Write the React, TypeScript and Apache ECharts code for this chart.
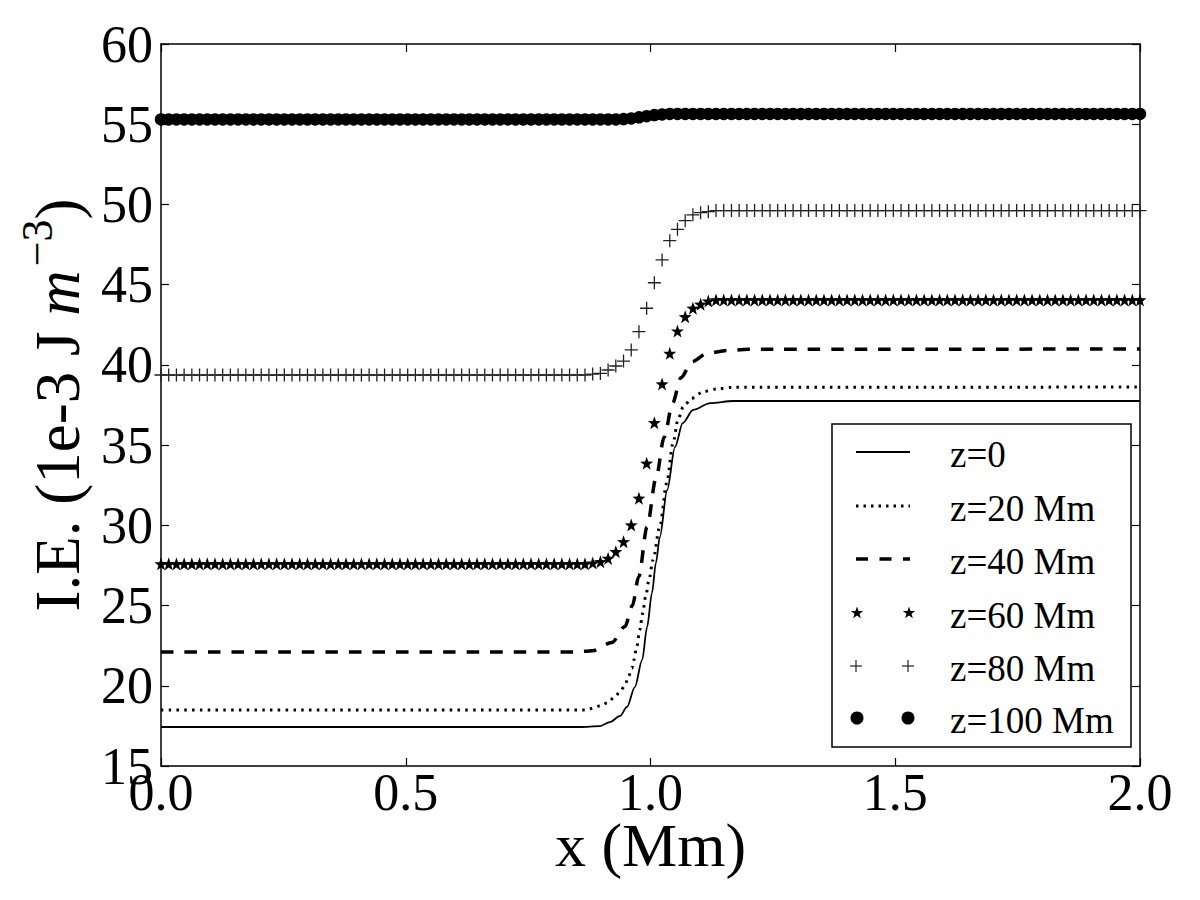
import React, { useEffect, useRef } from "react";
import * as echarts from "echarts";

const FONT = "'Liberation Serif', 'Times New Roman', serif";

// x range and tick labels
const X_MIN = 0;
const X_MAX = 2;
const X_INTERVAL = 0.5;
const Y_MIN = 15;
const Y_MAX = 60;
const Y_INTERVAL = 5;

const SERIES_NAMES = ["z=0", "z=20 Mm", "z=40 Mm", "z=60 Mm", "z=80 Mm", "z=100 Mm"];

// number of samples of the marker curves (uniform grid over 0..2 Mm)
const SAMPLE_COUNT = 128;

// z=0 (solid line)
const z0X = [0, 0.856, 0.897, 0.917, 0.938, 0.952, 0.968, 0.983, 0.993, 1.003, 1.011, 1.019, 1.034, 1.05, 1.066, 1.087, 1.122, 1.169, 2.0];
const z0Y = [17.43, 17.43, 17.49, 17.74, 18.12, 18.68, 19.92, 21.61, 23.66, 25.78, 27.65, 29.27, 32.2, 34.88, 36.38, 37.19, 37.62, 37.75, 37.75];

// z=20 Mm (dotted line)
const z20X = [0, 0.866, 0.897, 0.913, 0.927, 0.938, 0.948, 0.955, 0.962, 0.966, 0.972, 0.978, 0.984, 0.99, 0.997, 1.005, 1.019, 1.033, 1.046, 1.056, 1.067, 1.084, 1.108, 1.135, 1.168, 2.0];
const z20Y = [18.49, 18.49, 18.74, 18.95, 19.32, 19.63, 20.05, 20.57, 21.09, 21.61, 22.44, 23.48, 24.52, 25.55, 26.59, 27.84, 29.92, 32.62, 35.11, 36.57, 37.39, 37.92, 38.33, 38.5, 38.6, 38.62];

// z=40 Mm (dashed line)
const z40X = [0, 0.846, 0.882, 0.921, 0.948, 0.963, 0.976, 0.993, 1.011, 1.028, 1.045, 1.062, 1.085, 1.115, 1.155, 1.2, 2.0];
const z40Y = [22.1, 22.1, 22.19, 22.7, 23.7, 25.0, 26.8, 29.9, 32.9, 35.5, 37.6, 39.2, 40.2, 40.7, 40.9, 40.97, 40.99];

// z=60 Mm (stars), one value per grid sample
const z60Y = [
  27.6, 27.6, 27.6, 27.6, 27.6, 27.6, 27.6, 27.6, 27.6, 27.6, 27.6, 27.6, 27.6, 27.6,
  27.6, 27.6, 27.6, 27.6, 27.6, 27.6, 27.6, 27.6, 27.6, 27.6, 27.6, 27.6, 27.6, 27.6,
  27.6, 27.6, 27.6, 27.6, 27.6, 27.6, 27.6, 27.6, 27.6, 27.6, 27.6, 27.6, 27.6, 27.6,
  27.6, 27.6, 27.6, 27.6, 27.6, 27.6, 27.6, 27.6, 27.6, 27.6, 27.6, 27.6, 27.6, 27.6,
  27.65, 27.73, 27.94, 28.36, 28.98, 30.02, 31.69, 33.87, 36.4, 38.81, 40.72, 42.11, 43.0, 43.53, 43.78, 43.98,
  44.05, 44.05, 44.05, 44.05, 44.05, 44.05, 44.05, 44.05, 44.05, 44.05, 44.05, 44.05, 44.05, 44.05,
  44.05, 44.05, 44.05, 44.05, 44.05, 44.05, 44.05, 44.05, 44.05, 44.05, 44.05, 44.05, 44.05, 44.05,
  44.05, 44.05, 44.05, 44.05, 44.05, 44.05, 44.05, 44.05, 44.05, 44.05, 44.05, 44.05, 44.05, 44.05,
  44.05, 44.05, 44.05, 44.05, 44.05, 44.05, 44.05, 44.05, 44.05, 44.05, 44.05, 44.05, 44.05, 44.05,
];

// z=80 Mm (pluses)
const z80Y = [
  39.37, 39.37, 39.37, 39.37, 39.37, 39.37, 39.37, 39.37, 39.37, 39.37, 39.37, 39.37, 39.37, 39.37,
  39.37, 39.37, 39.37, 39.37, 39.37, 39.37, 39.37, 39.37, 39.37, 39.37, 39.37, 39.37, 39.37, 39.37,
  39.37, 39.37, 39.37, 39.37, 39.37, 39.37, 39.37, 39.37, 39.37, 39.37, 39.37, 39.37, 39.37, 39.37,
  39.37, 39.37, 39.37, 39.37, 39.37, 39.37, 39.37, 39.37, 39.37, 39.37, 39.37, 39.37, 39.37, 39.37,
  39.43, 39.47, 39.68, 39.93, 40.24, 40.93, 42.07, 43.53, 45.12, 46.54, 47.74, 48.45, 48.99, 49.35, 49.49, 49.55,
  49.62, 49.62, 49.62, 49.62, 49.62, 49.62, 49.62, 49.62, 49.62, 49.62, 49.62, 49.62, 49.62, 49.62,
  49.62, 49.62, 49.62, 49.62, 49.62, 49.62, 49.62, 49.62, 49.62, 49.62, 49.62, 49.62, 49.62, 49.62,
  49.62, 49.62, 49.62, 49.62, 49.62, 49.62, 49.62, 49.62, 49.62, 49.62, 49.62, 49.62, 49.62, 49.62,
  49.62, 49.62, 49.62, 49.62, 49.62, 49.62, 49.62, 49.62, 49.62, 49.62, 49.62, 49.62, 49.62, 49.62,
];

// z=100 Mm (filled circles)
const z100Y = [
  55.3, 55.3, 55.3, 55.3, 55.3, 55.3, 55.3, 55.3, 55.3, 55.3, 55.3, 55.3, 55.3, 55.3, 55.3,
  55.3, 55.3, 55.3, 55.3, 55.3, 55.3, 55.3, 55.3, 55.3, 55.3, 55.3, 55.3, 55.3, 55.3, 55.3,
  55.3, 55.3, 55.3, 55.3, 55.3, 55.3, 55.3, 55.3, 55.3, 55.3, 55.3, 55.3, 55.3, 55.3, 55.3,
  55.3, 55.3, 55.3, 55.3, 55.3, 55.3, 55.3, 55.3, 55.3, 55.3, 55.3, 55.3, 55.3, 55.3, 55.3,
  55.32, 55.36, 55.43, 55.5, 55.57, 55.61,
  55.64, 55.64, 55.64, 55.64, 55.64, 55.64, 55.64, 55.64, 55.64, 55.64, 55.64, 55.64, 55.64, 55.64, 55.64,
  55.64, 55.64, 55.64, 55.64, 55.64, 55.64, 55.64, 55.64, 55.64, 55.64, 55.64, 55.64, 55.64, 55.64, 55.64,
  55.64, 55.64, 55.64, 55.64, 55.64, 55.64, 55.64, 55.64, 55.64, 55.64, 55.64, 55.64, 55.64, 55.64, 55.64,
  55.64, 55.64, 55.64, 55.64, 55.64, 55.64, 55.64, 55.64, 55.64, 55.64, 55.64, 55.64, 55.64, 55.64, 55.64,
  55.64, 55.64,
];

const STAR_PATH =
  "path://M0,-10 L2.35,-3.24 L9.51,-3.09 L3.8,1.24 L5.88,8.09 L0,4 L-5.88,8.09 L-3.8,1.24 L-9.51,-3.09 L-2.35,-3.24 Z";
const PLUS_PATH =
  "path://M-0.6,-6 L0.6,-6 L0.6,-0.6 L6,-0.6 L6,0.6 L0.6,0.6 L0.6,6 L-0.6,6 L-0.6,0.6 L-6,0.6 L-6,-0.6 L-0.6,-0.6 Z";

function gridX(i: number) {
  return X_MIN + ((X_MAX - X_MIN) * i) / (SAMPLE_COUNT - 1);
}

function pairs(xs: number[], ys: number[]) {
  return ys.map((y, i) => [xs[i], y]);
}
function gridPairs(ys: number[]) {
  return ys.map((y, i) => [gridX(i), y]);
}

function starPoints(cx: number, cy: number, r: number) {
  const pts: number[][] = [];
  for (let k = 0; k < 10; k++) {
    const rr = k % 2 === 0 ? r : r * 0.4;
    const a = -Math.PI / 2 + (k * Math.PI) / 5;
    pts.push([cx + rr * Math.cos(a), cy + rr * Math.sin(a)]);
  }
  return pts;
}

function buildLegend() {
  const left = 832;
  const top = 424;
  const w = 299;
  const h = 323;
  const rows = [452, 506, 559, 613, 666, 718];
  const x1 = 856;
  const x2 = 910;
  const tx = 950;
  const Z = 100;
  const els: any[] = [
    { type: "rect", z: Z, shape: { x: left, y: top, width: w, height: h }, style: { fill: "#fff", stroke: "#000", lineWidth: 1.5 } },
  ];
  els.push({ type: "line", z: Z, shape: { x1, y1: rows[0], x2, y2: rows[0] }, style: { stroke: "#000", lineWidth: 1.8 } });
  els.push({ type: "line", z: Z, shape: { x1, y1: rows[1], x2, y2: rows[1] }, style: { stroke: "#000", lineWidth: 3, lineDash: [2.5, 5] } });
  els.push({ type: "line", z: Z, shape: { x1, y1: rows[2], x2, y2: rows[2] }, style: { stroke: "#000", lineWidth: 3.5, lineDash: [12, 11.5] } });
  [x1 + 1, x2 - 1].forEach((cx) => {
    els.push({ type: "polygon", z: Z, shape: { points: starPoints(cx, rows[3], 6.5) }, style: { fill: "#000" } });
  });
  [x1, x2 - 2].forEach((cx) => {
    els.push({ type: "line", z: Z, shape: { x1: cx - 6, y1: rows[4], x2: cx + 6, y2: rows[4] }, style: { stroke: "#222", lineWidth: 1.2 } });
    els.push({ type: "line", z: Z, shape: { x1: cx, y1: rows[4] - 6, x2: cx, y2: rows[4] + 6 }, style: { stroke: "#222", lineWidth: 1.2 } });
  });
  [x1 + 1, x2 - 2].forEach((cx) => {
    els.push({ type: "circle", z: Z, shape: { cx, cy: rows[5], r: 6.5 }, style: { fill: "#000" } });
  });
  SERIES_NAMES.forEach((name, i) => {
    els.push({
      type: "text",
      z: Z,
      x: tx,
      y: rows[i] + 2,
      style: {
        text: name,
        fontFamily: FONT,
        fontSize: 37,
        fill: "#000",
        align: "left",
        verticalAlign: "middle",
        textAlign: "left",
        textVerticalAlign: "middle",
      },
    });
  });
  return els;
}

export default function App() {
  const ref = useRef<HTMLDivElement>(null);

  useEffect(() => {
    if (!ref.current) return;
    const chart = echarts.init(ref.current, undefined, { renderer: "svg" });

    const axisLine = { show: true, onZero: false, lineStyle: { color: "#000", width: 1.5 } };
    const axisTick = { show: true, inside: true, length: 8, lineStyle: { color: "#000", width: 1.2 } };

    const option: any = {
      animation: false,
      backgroundColor: "#fff",
      grid: { left: 161, top: 44, right: 60, bottom: 134, containLabel: false },
      xAxis: [
        {
          type: "value",
          position: "bottom",
          min: X_MIN,
          max: X_MAX,
          interval: X_INTERVAL,
          axisLine,
          axisTick,
          splitLine: { show: false },
          axisLabel: {
            show: true,
            color: "#000",
            fontFamily: FONT,
            fontSize: 52,
            margin: 0,
            showMinLabel: true,
            showMaxLabel: true,
            formatter: (v: number) => v.toFixed(1),
          },
          name: "x (Mm)",
          nameLocation: "middle",
          nameGap: 54,
          nameMoveOverlap: false,
          nameTextStyle: { color: "#000", fontFamily: FONT, fontSize: 62, lineHeight: 50 },
        },
        {
          type: "value",
          position: "top",
          min: X_MIN,
          max: X_MAX,
          interval: X_INTERVAL,
          axisLine,
          axisTick,
          splitLine: { show: false },
          axisLabel: { show: false },
        },
      ],
      yAxis: [
        {
          type: "value",
          position: "left",
          min: Y_MIN,
          max: Y_MAX,
          interval: Y_INTERVAL,
          axisLine,
          axisTick,
          splitLine: { show: false },
          axisLabel: {
            show: true,
            color: "#000",
            fontFamily: FONT,
            fontSize: 52,
            margin: 8,
            showMinLabel: true,
            showMaxLabel: true,
          },
          name: "{a|I.E. (1e-3 J }{i|m}{s|\u22123}{a|)}",
          nameLocation: "middle",
          nameRotate: 90,
          nameGap: 72,
          nameTextStyle: {
            color: "#000",
            fontFamily: FONT,
            fontSize: 63,
            rich: {
              a: { fontFamily: FONT, fontSize: 63, color: "#000", verticalAlign: "bottom" },
              i: { fontFamily: FONT, fontSize: 63, fontStyle: "italic", color: "#000", verticalAlign: "bottom" },
              s: { fontFamily: FONT, fontSize: 44, color: "#000", verticalAlign: "bottom", padding: [0, 0, 30, 4] },
            },
          },
        },
        {
          type: "value",
          position: "right",
          min: Y_MIN,
          max: Y_MAX,
          interval: Y_INTERVAL,
          axisLine,
          axisTick,
          splitLine: { show: false },
          axisLabel: { show: false },
        },
      ],
      series: [
        {
          name: SERIES_NAMES[0],
          type: "line",
          data: pairs(z0X, z0Y),
          showSymbol: false,
          smooth: 0.3,
          smoothMonotone: "x",
          silent: true,
          lineStyle: { color: "#000", width: 1.8 },
        },
        {
          name: SERIES_NAMES[1],
          type: "line",
          data: pairs(z20X, z20Y),
          showSymbol: false,
          smooth: 0.3,
          smoothMonotone: "x",
          silent: true,
          lineStyle: { color: "#000", width: 3, type: [2.5, 5.3] },
        },
        {
          name: SERIES_NAMES[2],
          type: "line",
          data: pairs(z40X, z40Y),
          showSymbol: false,
          smooth: 0.3,
          smoothMonotone: "x",
          silent: true,
          lineStyle: { color: "#000", width: 3.5, type: [12.5, 11] },
        },
        {
          name: SERIES_NAMES[3],
          type: "scatter",
          data: gridPairs(z60Y),
          symbol: STAR_PATH,
          symbolSize: 13,
          silent: true,
          itemStyle: { color: "#000", opacity: 1 },
        },
        {
          name: SERIES_NAMES[4],
          type: "scatter",
          data: gridPairs(z80Y),
          symbol: PLUS_PATH,
          symbolSize: 13,
          silent: true,
          itemStyle: { color: "#222", opacity: 1 },
        },
        {
          name: SERIES_NAMES[5],
          type: "scatter",
          data: gridPairs(z100Y),
          symbol: "circle",
          symbolSize: 12.5,
          silent: true,
          itemStyle: { color: "#000", opacity: 1 },
        },
      ],
      graphic: buildLegend(),
    };

    chart.setOption(option);
    return () => chart.dispose();
  }, []);

  return (
    <div
      ref={ref}
      style={{ position: "absolute", left: 0, top: 0, width: 1200, height: 900, background: "#fff" }}
    />
  );
}
